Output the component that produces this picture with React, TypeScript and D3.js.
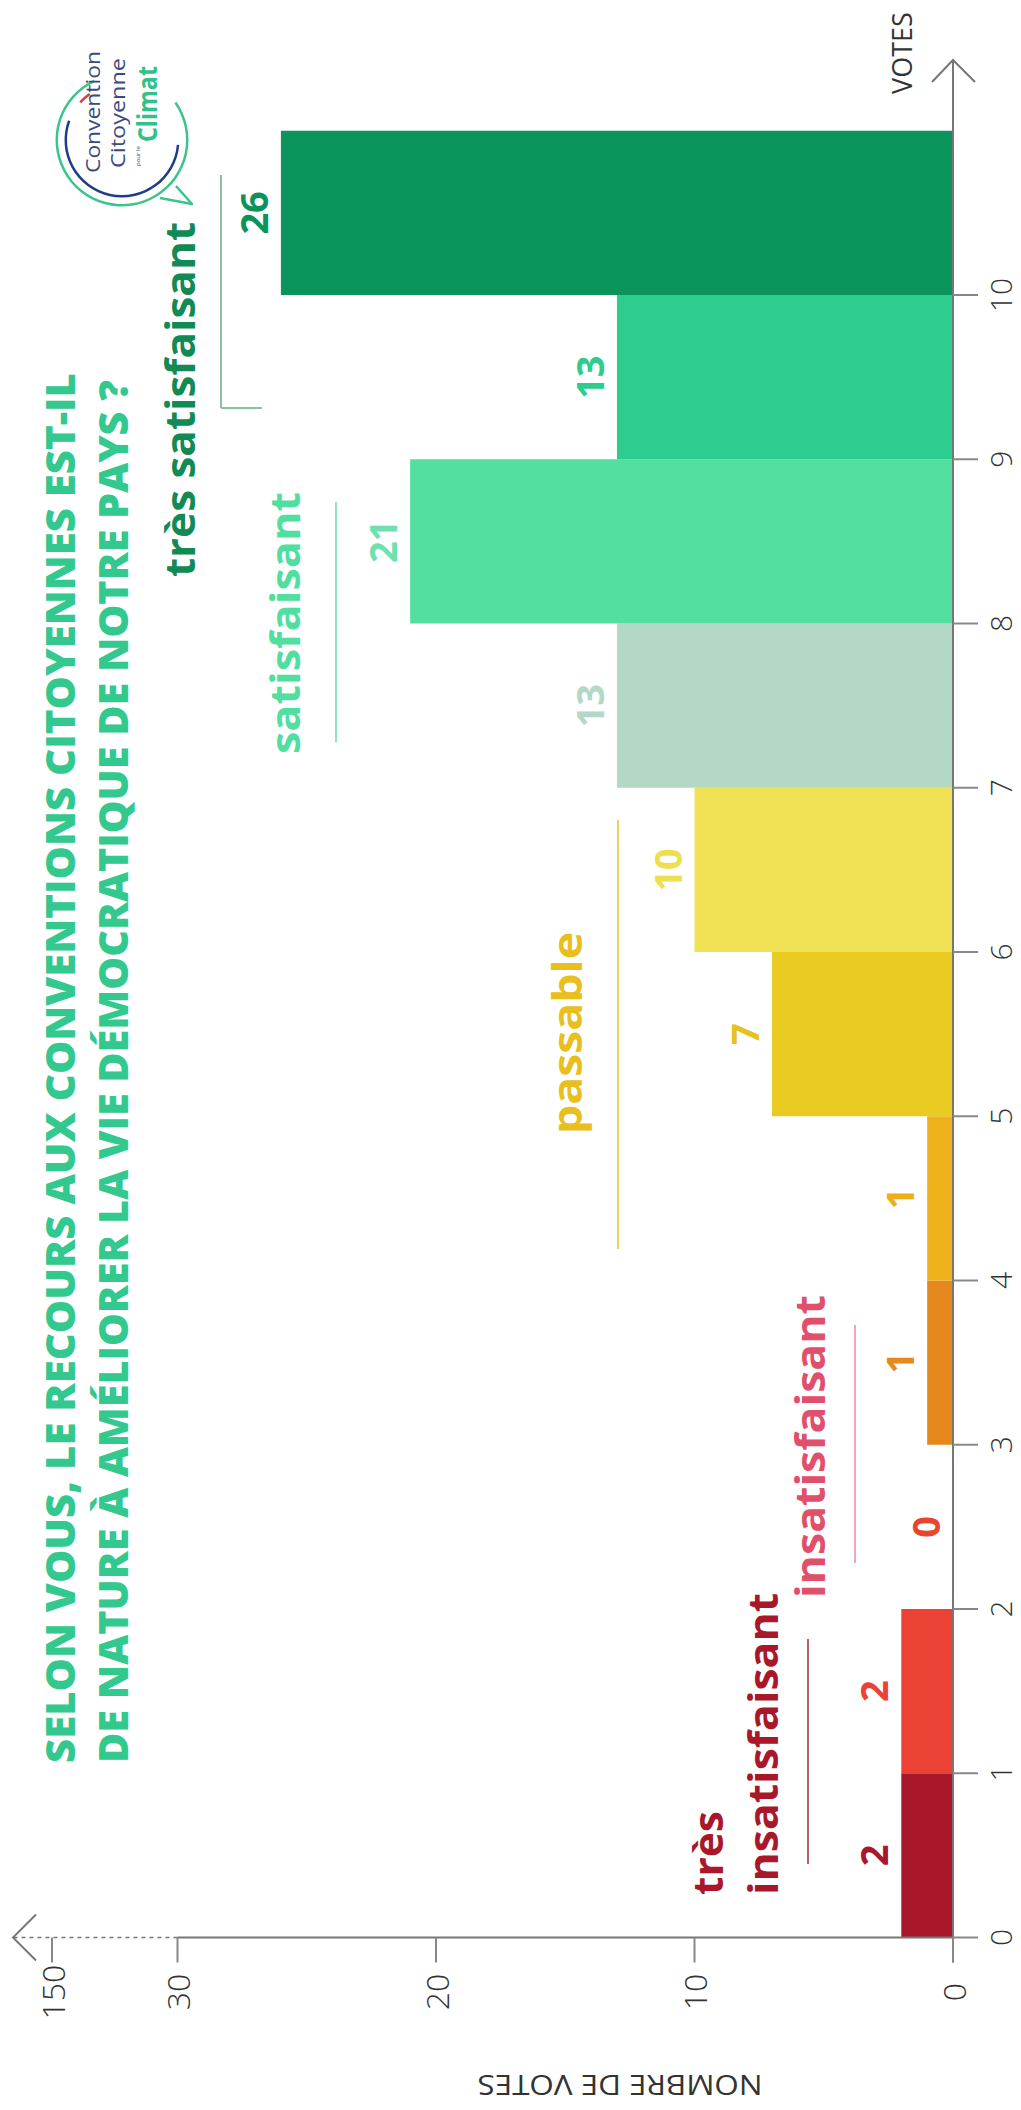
import React from 'react';
import * as d3 from 'd3';

const SCORES = [0, 1, 2, 3, 4, 5, 6, 7, 8, 9, 10];
const VOTES = [2, 2, 0, 1, 1, 7, 10, 13, 21, 13, 26];
const BAR_COLORS = ['#a8182a', '#ec4236', '#e8452f', '#e5891f', '#f0b21a', '#e9cb22', '#f0e254', '#b4d8c6', '#52dfa0', '#2ecc8f', '#0a945c'];
const LABEL_COLORS = ['#a8182a', '#ec4236', '#e8452f', '#e5891f', '#eeae1a', '#e6c21e', '#eedf50', '#b4d8c6', '#6fe0b0', '#2ecc8f', '#0a945c'];
const CAT_TICKS = [0, 1, 2, 3, 4, 5, 6, 7, 8, 9, 10];
const VALUE_TICKS = [0, 10, 20, 30, 150];
const TITLE_LINES = [
  'SELON VOUS, LE RECOURS AUX CONVENTIONS CITOYENNES EST-IL',
  'DE NATURE À AMÉLIORER LA VIE DÉMOCRATIQUE DE NOTRE PAYS ?',
];
const AXIS_TITLE_VALUES = 'NOMBRE DE VOTES';
const AXIS_TITLE_SCORES = 'VOTES';

const W = 1021;
const H = 2110;
const FONT = "'Open Sans', 'DejaVu Sans', sans-serif";

export default function App() {
  const yCat = d3.scaleLinear().domain([0, 10]).range([1937.5, 295]);
  const xVal = d3.scaleLinear().domain([0, 30, 150]).range([953, 177.5, 52]);
  const x0 = xVal(0);
  const yBase = yCat(0);

  const rot = (x: number, y: number, a = -90) => `rotate(${a},${x},${y})`;

  const groups = [
    { lines: ['très', 'insatisfaisant'], color: '#a8182a', xs: [723, 778], y0: 1895, lens: [84, 302], lineX: 808, ly: [1639, 1864], lineColor: '#b8606c' },
    { lines: ['insatisfaisant'], color: '#e0506c', xs: [825], y0: 1598, lens: [303], lineX: 855, ly: [1325, 1563], lineColor: '#eba8b6' },
    { lines: ['passable'], color: '#e8bf1e', xs: [582], y0: 1134, lens: [202], lineX: 618, ly: [820, 1249], lineColor: '#ecd060' },
    { lines: ['satisfaisant'], color: '#50dfa0', xs: [300], y0: 754, lens: [262], lineX: 336, ly: [502, 742], lineColor: '#8ee6bd' },
    { lines: ['très satisfaisant'], color: '#128a55', xs: [195], y0: 577, lens: [355], lineX: 221, ly: [175, 408], lineColor: '#8cbfa4' },
  ];

  const cx = 122, cy = 140;
  const greenArc = d3.arc()({ innerRadius: 64, outerRadius: 66.5, startAngle: (55 * Math.PI) / 180, endAngle: (335 * Math.PI) / 180 } as any) as string;
  const blueArc = d3.arc()({ innerRadius: 55, outerRadius: 57.5, startAngle: (95 * Math.PI) / 180, endAngle: (290 * Math.PI) / 180 } as any) as string;
  const redArc = d3.arc()({ innerRadius: 55, outerRadius: 57.5, startAngle: (312 * Math.PI) / 180, endAngle: (325 * Math.PI) / 180 } as any) as string;

  return (
    <svg width={W} height={H} viewBox={`0 0 ${W} ${H}`} style={{ position: 'absolute', left: 0, top: 0, background: '#fff' }}>
      <rect x={0} y={0} width={W} height={H} fill="#fff" />

      {/* title */}
      {TITLE_LINES.map((t, i) => (
        <text key={t} x={[75, 128][i]} y={1763} transform={rot([75, 128][i], 1763)} fontFamily={FONT} fontWeight={800} fontSize={40}
          fill="#33c98e" textLength={[1390, 1383][i]} lengthAdjust="spacingAndGlyphs">{t}</text>
      ))}

      {/* logo */}
      <g>
        <path d={greenArc} transform={`translate(${cx},${cy})`} fill="#3cc48c" />
        <path d="M176,186 L192,204 L160,198" fill="none" stroke="#3cc48c" strokeWidth={2.5} strokeLinejoin="round" />
        <path d={blueArc} transform={`translate(${cx},${cy})`} fill="#1f3c88" />
        <path d={redArc} transform={`translate(${cx},${cy})`} fill="#e03a3e" />
        <text x={100} y={173} transform={rot(100, 173)} fontFamily={FONT} fontSize={20} fill="#3b4a7c" textLength={122} lengthAdjust="spacingAndGlyphs">Convention</text>
        <text x={125} y={168} transform={rot(125, 168)} fontFamily={FONT} fontSize={20} fill="#3b4a7c" textLength={110} lengthAdjust="spacingAndGlyphs">Citoyenne</text>
        <text x={140} y={166} transform={rot(140, 166)} fontFamily={FONT} fontSize={6} fill="#3b4a7c">pour le</text>
        <text x={157} y={142} transform={rot(157, 142)} fontFamily={FONT} fontWeight={700} fontSize={26} fill="#2fc28a" textLength={76} lengthAdjust="spacingAndGlyphs">Climat</text>
      </g>

      {/* bars */}
      {SCORES.map((s, i) => (
        <rect key={s} x={xVal(VOTES[i])} y={yCat(s + 1)} width={x0 - xVal(VOTES[i])} height={yCat(s) - yCat(s + 1)} fill={BAR_COLORS[i]} />
      ))}

      {/* value labels */}
      {SCORES.map((s, i) => {
        const lx = xVal(VOTES[i]) - 28;
        const ly = (yCat(s) + yCat(s + 1)) / 2;
        return (
          <text key={s} x={lx} y={ly} transform={rot(lx, ly)} textAnchor="middle" dominantBaseline="central" fontFamily={FONT} fontWeight={700} fontSize={38} fill={LABEL_COLORS[i]}>{VOTES[i]}</text>
        );
      })}

      {/* group labels */}
      {groups.map((g) => (
        <g key={g.lines.join(' ')}>
          {g.lines.map((l, j) => (
            <text key={l} x={g.xs[j]} y={g.y0} transform={rot(g.xs[j], g.y0)} fontFamily={FONT} fontWeight={700} fontSize={42} fill={g.color}
              textLength={g.lens[j]} lengthAdjust="spacingAndGlyphs">{l}</text>
          ))}
          <line x1={g.lineX} x2={g.lineX} y1={g.ly[0]} y2={g.ly[1]} stroke={g.lineColor} strokeWidth={2} />
        </g>
      ))}
      <line x1={221} x2={262} y1={408} y2={408} stroke="#8cbfa4" strokeWidth={2} />

      {/* category axis */}
      <line x1={x0} x2={x0} y1={yBase + 25} y2={60} stroke="#777" strokeWidth={2} />
      <polyline points={`${x0 - 21},82 ${x0},60 ${x0 + 22},82`} fill="none" stroke="#777" strokeWidth={2} />
      {CAT_TICKS.map((c) => (
        <g key={c}>
          <line x1={x0} x2={x0 + 25} y1={yCat(c)} y2={yCat(c)} stroke="#888" strokeWidth={2} />
          <text x={1012} y={yCat(c)} transform={rot(1012, yCat(c))} textAnchor="middle" fontFamily={FONT} fontWeight={300} fontSize={30} fill="#333">{c}</text>
        </g>
      ))}
      <text x={901} y={53} transform={rot(901, 53)} textAnchor="middle" dominantBaseline="central" fontFamily={FONT} fontWeight={400} fontSize={27} fill="#333">{AXIS_TITLE_SCORES}</text>

      {/* value axis */}
      <line x1={x0} x2={xVal(30)} y1={yBase} y2={yBase} stroke="#777" strokeWidth={2} />
      <line x1={xVal(30)} x2={14} y1={yBase} y2={yBase} stroke="#777" strokeWidth={1.5} strokeDasharray="4,4" />
      <polyline points={`36,${yBase - 23} 13,${yBase} 36,${yBase + 23}`} fill="none" stroke="#777" strokeWidth={2} />
      {VALUE_TICKS.map((v) => (
        <g key={v}>
          <line x1={xVal(v)} x2={xVal(v)} y1={yBase} y2={yBase + 25} stroke="#888" strokeWidth={2} />
          <text x={xVal(v)} y={1992} transform={rot(xVal(v), 1992)} textAnchor="middle" dominantBaseline="central" fontFamily={FONT} fontWeight={300} fontSize={32} fill="#333">{v}</text>
        </g>
      ))}
      <text x={620} y={2086} transform={rot(620, 2086, 180)} textAnchor="middle" dominantBaseline="central" fontFamily={FONT} fontWeight={400} fontSize={28} fill="#333" textLength={285} lengthAdjust="spacingAndGlyphs">{AXIS_TITLE_VALUES}</text>
    </svg>
  );
}
